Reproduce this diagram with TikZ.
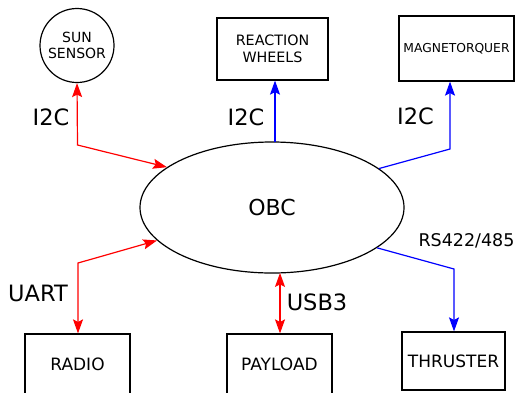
\documentclass[tikz,border=0pt]{standalone}
\usepackage{fontspec}
\setmainfont{DejaVu Sans}
\usetikzlibrary{shapes.geometric,arrows.meta}
\begin{document}
\begin{tikzpicture}[x=1pt,y=-1pt,
  box/.style={draw=black,line width=1.2pt,rectangle,inner sep=0pt,align=center},
  redl/.style={draw=red,line width=1.2pt},
  bluel/.style={draw=blue,line width=1.2pt},
  myarr/.tip={Stealth[length=14pt,width=10pt,inset=2.5pt]},
  lbl/.style={font=\fontsize{22.5}{26}\selectfont,inner sep=0pt},
]
\clip (0,0) rectangle (518,392);
% components
\node[draw=black,line width=1.2pt,circle,minimum size=74pt,inner sep=0pt,align=center,
      font=\fontsize{14}{16.5}\selectfont] (sun) at (77,45.5) {SUN\\SENSOR};
\node[box,minimum width=111pt,minimum height=62pt,font=\fontsize{14.3}{17}\selectfont]
      (rw) at (272.5,49) {REACTION\\WHEELS};
\node[box,minimum width=115pt,minimum height=65pt,font=\fontsize{12.3}{15}\selectfont]
      (mt) at (456.5,48.5) {MAGNETORQUER};
\node[draw=black,line width=1.2pt,ellipse,minimum width=264pt,minimum height=131pt,inner sep=0pt,
      font=\fontsize{22}{26}\selectfont] (obc) at (272,207.5) {OBC};
\node[box,minimum width=105pt,minimum height=60pt,font=\fontsize{17}{20}\selectfont]
      (radio) at (77.5,364) {RADIO};
\node[box,minimum width=105pt,minimum height=60pt,font=\fontsize{17}{20}\selectfont]
      (payload) at (279.5,364) {PAYLOAD};
\node[box,minimum width=103pt,minimum height=58pt,font=\fontsize{17}{20}\selectfont]
      (thr) at (453.5,361) {THRUSTER};
% labels
\node[lbl] (l1) at (51,117) {I2C};
\node[lbl] (l2) at (246,117) {I2C};
\node[lbl] (l3) at (415.5,116) {I2C};
\node[lbl] (l4) at (38,293) {UART};
\node[lbl] (l5) at (317,302) {USB3};
\node[inner sep=0pt,font=\fontsize{17.5}{20}\selectfont] (l6) at (466.5,241) {RS422/485};
% bend points
\coordinate (b1) at (77.5,145);
\coordinate (t2) at (275,142);
\coordinate (b3) at (450,149);
\coordinate (b4) at (78,263);
\coordinate (t5) at (280,272.9);
\coordinate (b6) at (454,269);
% connectors
\draw[redl,myarr-myarr] (sun.south) -- (b1) -- (obc.159.3);
\draw[bluel,-myarr] (t2) -- (t2 |- rw.south);
\draw[bluel,-myarr] (obc.20.4) -- (b3) -- (b3 |- mt.south);
\draw[redl,myarr-myarr] (obc.196.6) -- (b4) -- (b4 |- radio.north);
\draw[redl,myarr-myarr] (t5) -- (t5 |- payload.north);
\draw[bluel,-myarr] (obc.-21.4) -- (b6) -- (b6 |- thr.north);
\end{tikzpicture}
\end{document}
